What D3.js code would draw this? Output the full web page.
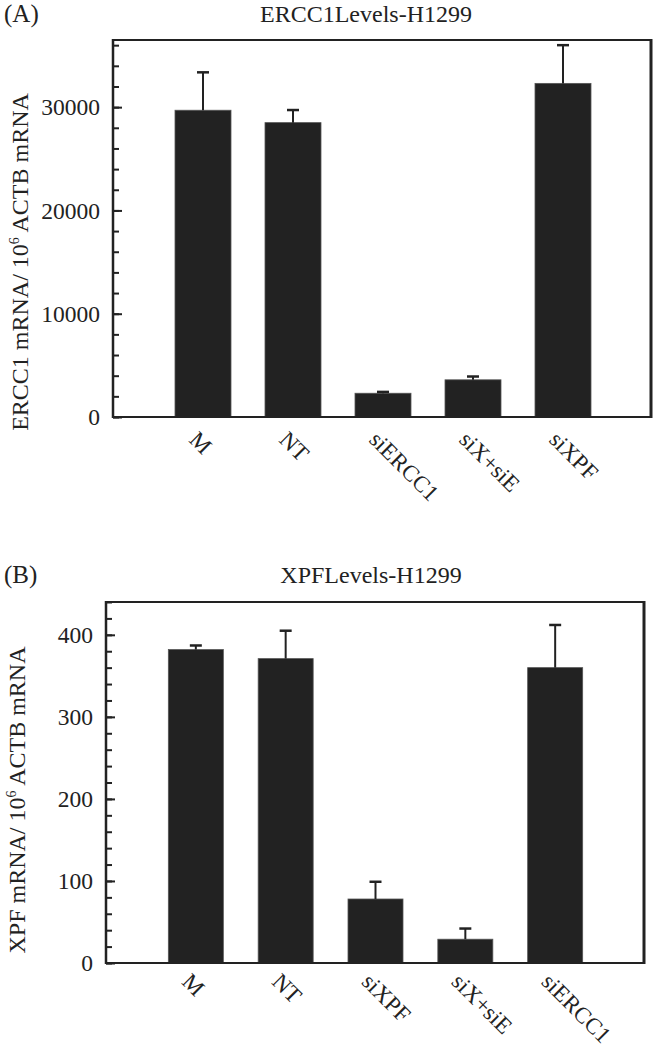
<!DOCTYPE html>
<html><head><meta charset="utf-8">
<script src="https://cdn.jsdelivr.net/npm/d3@7"></script>
<style>body{margin:0;background:#fff}svg{display:block}text{font-family:"Liberation Serif","Times New Roman",serif;fill:#222}</style>
</head><body>
<script>
const catsA = ["M","NT","siERCC1","siX+siE","siXPF"];
const valsA = [29700, 28500, 2300, 3600, 32300];
const errA  = [3670, 1220, 130, 320, 3700];
const majorTicksA = [0, 10000, 20000, 30000];
const minorTicksA = d3.range(0, 36001, 2000);

const catsB = ["M","NT","siXPF","siX+siE","siERCC1"];
const valsB = [382, 371, 78, 29, 360];
const errB  = [5, 34, 21, 13, 52];
const majorTicksB = [0, 100, 200, 300, 400];
const minorTicksB = d3.range(0, 441, 20);

const svg = d3.select("body").append("svg").attr("width",654).attr("height",1050);
const ink = "#222";

function panel(o){
  const g = svg.append("g");
  const x = d3.scalePoint().domain(o.cats).range([o.left, o.left+540*o.stepScale]).padding(1);
  const y = d3.scaleLinear().domain([0,o.max]).range([o.bottom,o.top]);
  const bw = o.bw;
  g.selectAll("rect.bar").data(o.vals).join("rect")
    .attr("x",(d,i)=>x(o.cats[i])-bw/2).attr("width",bw)
    .attr("y",d=>y(d)).attr("height",d=>y(0)-y(d))
    .attr("fill",ink).attr("stroke","#555").attr("stroke-width",0.8);
  g.selectAll("line.err").data(o.vals).join("line")
    .attr("x1",(d,i)=>x(o.cats[i])).attr("x2",(d,i)=>x(o.cats[i]))
    .attr("y1",d=>y(d)).attr("y2",(d,i)=>y(d+o.err[i]))
    .attr("stroke",ink).attr("stroke-width",2);
  g.selectAll("line.cap").data(o.vals).join("line")
    .attr("x1",(d,i)=>x(o.cats[i])-6).attr("x2",(d,i)=>x(o.cats[i])+6)
    .attr("y1",(d,i)=>y(d+o.err[i])).attr("y2",(d,i)=>y(d+o.err[i]))
    .attr("stroke",ink).attr("stroke-width",2.5);
  g.append("line").attr("x1",o.left).attr("x2",o.right).attr("y1",o.top).attr("y2",o.top).attr("stroke",ink).attr("stroke-width",2);
  g.append("line").attr("x1",o.right).attr("x2",o.right).attr("y1",o.top-1).attr("y2",o.bottom+1).attr("stroke",ink).attr("stroke-width",3);
  g.append("line").attr("x1",o.left).attr("x2",o.right).attr("y1",o.bottom).attr("y2",o.bottom).attr("stroke",ink).attr("stroke-width",2);
  const ax = g.append("g").attr("transform",`translate(${o.left},0)`)
    .call(d3.axisRight(y).tickValues(o.minor).tickSize(6).tickFormat(""));
  ax.select(".domain").remove();
  ax.selectAll("line").attr("stroke",ink).attr("stroke-width",2);
  const ax2 = g.append("g").attr("transform",`translate(${o.left},0)`)
    .call(d3.axisRight(y).tickValues(o.major).tickSize(9).tickFormat(""));
  ax2.select(".domain").remove();
  ax2.selectAll("line").attr("stroke",ink).attr("stroke-width",2);
  g.append("line").attr("x1",o.left).attr("x2",o.left).attr("y1",o.top-1).attr("y2",o.bottom+1).attr("stroke",ink).attr("stroke-width",2.5);
  g.selectAll("text.yt").data(o.major).join("text")
    .attr("x",o.left-13).attr("y",d=>y(d)).attr("dy","0.35em")
    .attr("text-anchor","end").attr("font-size",23.5).text(d=>d);
  g.selectAll("text.xt").data(o.cats).join("text")
    .attr("transform",d=>`translate(${x(d)-15},${o.bottom+o.xlOff}) rotate(45)`)
    .attr("font-size",23).text(d=>d);
  g.append("text").attr("x",o.titleX).attr("y",o.titleY).attr("text-anchor","middle").attr("font-size",24).text(o.title);
  g.append("text").attr("x",4).attr("y",o.titleY).attr("font-size",25).text(o.tag);
  const yl = g.append("text").attr("transform",`translate(${o.ylx},${o.yly}) rotate(-90)`)
    .attr("text-anchor","middle").attr("font-size",24);
  yl.append("tspan").text(o.ylab);
  yl.append("tspan").attr("dy",-9).attr("font-size",14).text("6");
  yl.append("tspan").attr("dy",9).text(" ACTB mRNA");
}

panel({cats:catsA, vals:valsA, err:errA, major:majorTicksA, minor:minorTicksA,
  left:113, right:651, top:40, bottom:417, max:36500, stepScale:1, bw:56, xlOff:24,
  title:"ERCC1Levels-H1299", titleX:366, titleY:22, tag:"(A)",
  ylab:"ERCC1 mRNA/ 10", ylx:28, yly:262});
panel({cats:catsB, vals:valsB, err:errB, major:majorTicksB, minor:minorTicksB,
  left:106, right:644, top:602, bottom:963, max:440, stepScale:539/540, bw:55, xlOff:20,
  title:"XPFLevels-H1299", titleX:371, titleY:583, tag:"(B)",
  ylab:"XPF mRNA/ 10", ylx:25, yly:800});
</script>
</body></html>
